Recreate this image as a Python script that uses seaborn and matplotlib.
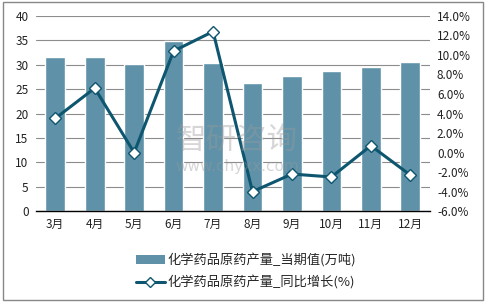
import matplotlib
matplotlib.use("Agg")
import matplotlib.pyplot as plt
import seaborn as sns
import pandas as pd
from matplotlib.patches import Rectangle, Patch
from matplotlib.lines import Line2D
from matplotlib.ticker import FuncFormatter

sns.set_theme(style="white")
plt.rcParams['font.family'] = ['Noto Sans CJK SC', 'DejaVu Sans']

# data
months = ['3月', '4月', '5月', '6月', '7月', '8月', '9月', '10月', '11月', '12月']
output = [31.6, 31.6, 30.2, 34.8, 30.4, 26.3, 27.7, 28.7, 29.5, 30.6]
growth = [3.5, 6.6, 0.0, 10.4, 12.4, -4.0, -2.2, -2.5, 0.7, -2.3]

bar_label = '化学药品原药产量_当期值(万吨)'
line_label = '化学药品原药产量_同比增长(%)'
bar_color = '#5f92a9'
line_color = '#0e566f'

df = pd.DataFrame({'month': months, 'output': output, 'growth': growth})

fig = plt.figure(figsize=(4.87, 3.06), dpi=100)
ax = fig.add_axes([0.073, 0.310, 0.810, 0.638])

sns.barplot(data=df, x='month', y='output', color=bar_color, width=0.5,
            saturation=1, ax=ax, zorder=2)
ax.set_ylim(0, 40)
ax.set_yticks(range(0, 41, 5))
ax.set_xlim(-0.5, len(months) - 0.5)
ax.grid(axis='y', color='#8c8c8c', linewidth=0.8, zorder=0)
ax.set_axisbelow(True)
ax.set_xlabel('')
ax.set_ylabel('')
for s in ['left', 'right', 'top']:
    ax.spines[s].set_visible(False)
ax.spines['bottom'].set_color('black')
ax.spines['bottom'].set_linewidth(1.0)
ax.tick_params(axis='both', labelsize=8.5, length=0, pad=5, colors='#222222')

ax2 = ax.twinx()
sns.pointplot(data=df, x='month', y='growth', color=line_color, markers='D',
              ax=ax2, linewidth=2.2, markersize=6,
              markerfacecolor='white', markeredgecolor=line_color,
              markeredgewidth=1.0)
ax2.set_ylim(-6, 14)
ax2.set_yticks(range(-6, 15, 2))
ax2.yaxis.set_major_formatter(FuncFormatter(lambda v, p: f'{v:.1f}%'))
ax2.set_ylabel('')
ax2.set_xlabel('')
for s in ['left', 'right', 'top', 'bottom']:
    ax2.spines[s].set_visible(False)
ax2.tick_params(axis='y', labelsize=8.5, length=0, pad=5, colors='#222222')
ax2.set_xlim(-0.5, len(months) - 0.5)

# watermark
fig.text(0.36, 0.54, '智研咨询', fontsize=22, color='#9a9a9a', alpha=0.4,
         ha='left', va='center')
fig.text(0.36, 0.455, 'www.chyxx.com', fontsize=11, color='#9a9a9a', alpha=0.4,
         ha='left', va='center', family='DejaVu Sans')

handles = [Patch(facecolor=bar_color, edgecolor='none'),
           Line2D([0], [0], color=line_color, linewidth=2.2, marker='D',
                  markersize=5, markerfacecolor='white',
                  markeredgecolor=line_color)]
fig.legend(handles, [bar_label, line_label], loc='center',
           bbox_to_anchor=(0.505, 0.113), ncol=1, frameon=False,
           fontsize=9.5, handlelength=2.2, handletextpad=0.2, labelspacing=0.6)

fig.patches.append(Rectangle((0.007, 0.018), 0.985, 0.974, transform=fig.transFigure,
                             fill=False, edgecolor='#888888', linewidth=1.0))

fig.savefig('out.png', dpi=100)
